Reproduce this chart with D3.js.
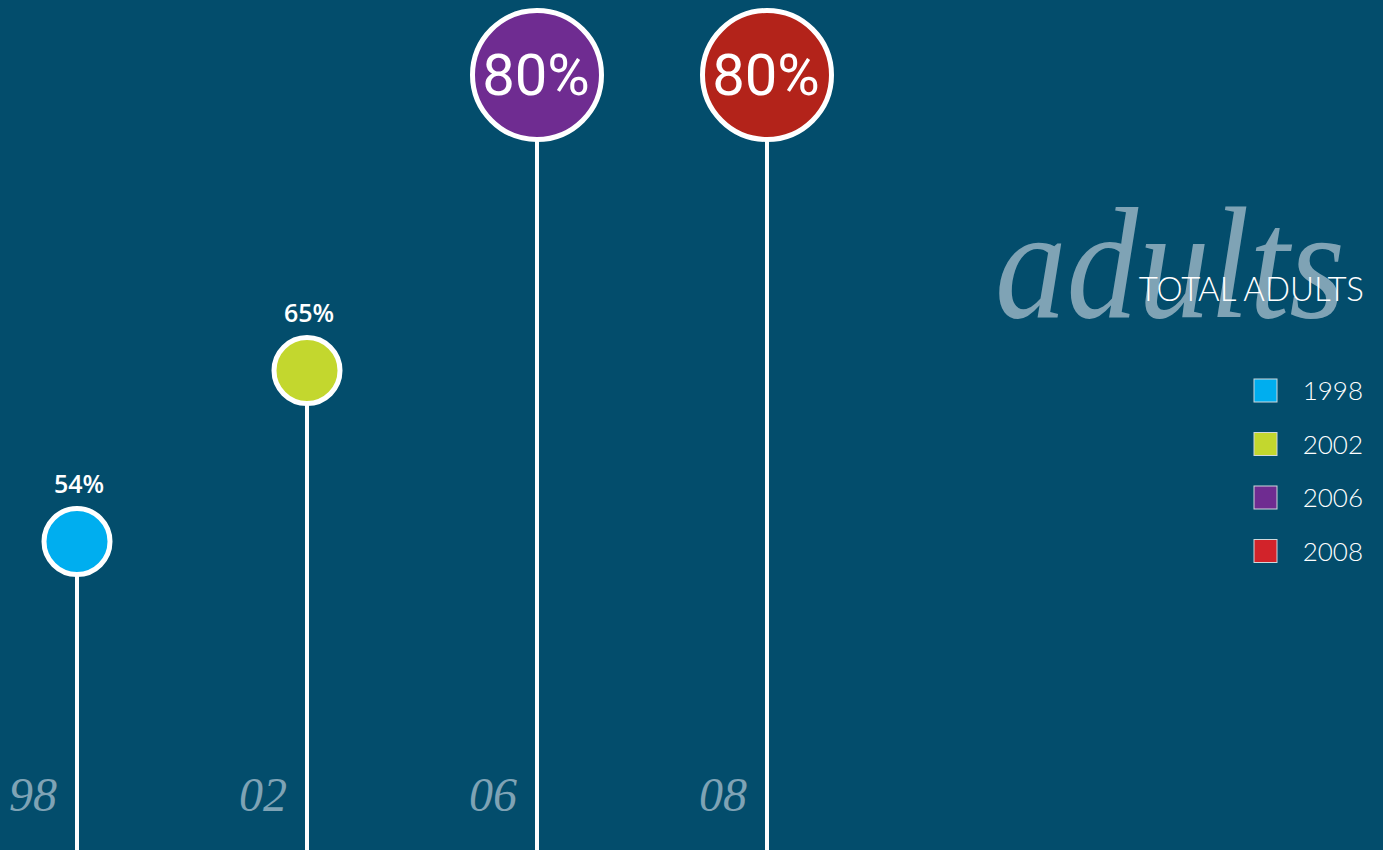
<!DOCTYPE html>
<html>
<head>
<meta charset="utf-8">
<script src="https://cdn.jsdelivr.net/npm/d3@7"></script>
<style>
  html, body { margin: 0; padding: 0; background: #034d6c; overflow: hidden; }
  svg { display: block; }
</style>
</head>
<body>
<svg id="chart" width="1383" height="850"></svg>
<script>
// Share of adults, by survey year
const years = ["1998", "2002", "2006", "2008"];
const shortYears = ["98", "02", "06", "08"];
const values = [54, 65, 80, 80];
const title = "TOTAL ADULTS";
const watermark = "adults";

const W = 1383, H = 850;
const svg = d3.select("#chart");

svg.append("rect").attr("width", W).attr("height", H).attr("fill", "#034d6c");

// Mark and legend colours, one per year
const markColor = d3.scaleOrdinal().domain(years)
  .range(["#00aeef", "#c3d72e", "#6f2c91", "#b3231a"]);
const legendColor = d3.scaleOrdinal().domain(years)
  .range(["#00aeef", "#c3d72e", "#6f2c91", "#d2232a"]);

const x = d3.scalePoint().domain(years).range([77, 767]);
// Pins rise faster toward the top values
const y = d3.scalePow().exponent(2.2).domain([0, d3.max(values)]).range([H + 31, 75]);

const maxVal = d3.max(values);
const smallR = 33, bigR = 64.5;

const data = years.map((yr, i) => ({ year: yr, short: shortYears[i], value: values[i] }));

// Watermark word and title
svg.append("text")
  .attr("x", 995).attr("y", 317)
  .attr("font-family", "'Liberation Serif', 'DejaVu Serif', serif")
  .attr("font-style", "italic")
  .attr("font-size", 158)
  .attr("textLength", 350)
  .attr("lengthAdjust", "spacingAndGlyphs")
  .attr("fill", "#7fa3b5")
  .text(watermark);

svg.append("text")
  .attr("x", 1364).attr("y", 301)
  .attr("text-anchor", "end")
  .attr("font-family", "Lato, 'Open Sans', sans-serif")
  .attr("font-weight", 300)
  .attr("font-size", 33)
  .attr("fill", "#ffffff")
  .text(title);

// Year labels along the bottom
svg.append("g").selectAll("text")
  .data(data).join("text")
  .attr("x", d => x(d.year) - 20)
  .attr("y", 811)
  .attr("text-anchor", "end")
  .attr("font-family", "'Liberation Serif', 'DejaVu Serif', serif")
  .attr("font-style", "italic")
  .attr("font-size", 48)
  .attr("fill", "#7fa3b5")
  .text(d => d.short);

// Stems
svg.append("g").selectAll("line")
  .data(data).join("line")
  .attr("x1", d => x(d.year)).attr("x2", d => x(d.year))
  .attr("y1", H).attr("y2", d => y(d.value))
  .attr("stroke", "#ffffff")
  .attr("stroke-width", 4);

// Pin heads
const pins = svg.append("g").selectAll("g")
  .data(data).join("g")
  .attr("transform", d => `translate(${x(d.year)},${y(d.value)})`);

pins.append("circle")
  .attr("r", d => d.value === maxVal ? bigR : smallR)
  .attr("fill", d => markColor(d.year))
  .attr("stroke", "#ffffff")
  .attr("stroke-width", 5);

pins.append("text")
  .attr("text-anchor", "middle")
  .attr("x", d => d.value === maxVal ? -1 : 2)
  .attr("y", d => d.value === maxVal ? 20 : -49)
  .attr("font-family", d => d.value === maxVal ? "Roboto, Lato, sans-serif" : "'Open Sans', Lato, sans-serif")
  .attr("font-weight", d => d.value === maxVal ? 400 : 600)
  .attr("font-size", d => d.value === maxVal ? 58 : 25)
  .attr("fill", "#ffffff")
  .text(d => d.value + "%");

// Legend
const legend = svg.append("g").selectAll("g")
  .data(data).join("g")
  .attr("transform", (d, i) => `translate(1254, ${379 + i * 53.5})`);

legend.append("rect")
  .attr("width", 23).attr("height", 23)
  .attr("fill", d => legendColor(d.year))
  .attr("stroke", "#d0d8dc")
  .attr("stroke-width", 1);

legend.append("text")
  .attr("x", 109).attr("y", 21)
  .attr("text-anchor", "end")
  .attr("font-family", "Lato, 'Open Sans', sans-serif")
  .attr("font-weight", 300)
  .attr("font-size", 26)
  .attr("fill", "#ffffff")
  .text(d => d.year);
</script>
</body>
</html>
